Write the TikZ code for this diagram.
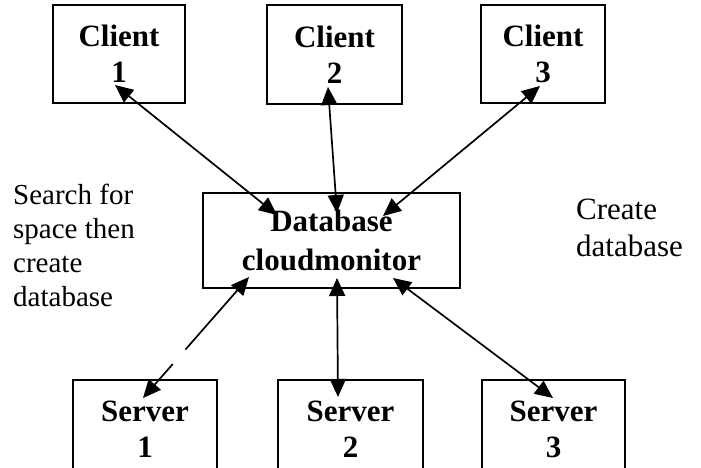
\documentclass[tikz,border=0pt]{standalone}
\usepackage{fontspec}
\setmainfont{Liberation Serif}
\usetikzlibrary{arrows.meta,positioning,calc}

\begin{document}
\begin{tikzpicture}[x=1pt, y=-1pt,
    box/.style={rectangle, draw, line width=2pt, inner sep=0pt, align=center,
                font=\fontsize{31}{36}\selectfont\bfseries},
    link/.style={{Triangle[length=18pt,width=16pt]}-{Triangle[length=18pt,width=16pt]}, line width=1.7pt},
    halflink/.style={-{Triangle[length=18pt,width=16pt]}, line width=1.7pt},
    note/.style={inner sep=0pt, align=left, anchor=north west}
]
\clip (0,0) rectangle (701,468);
\fill[white] (0,0) rectangle (701,468);

% clients
\node[box, minimum width=132pt, minimum height=98pt] (client1) at (119,54) {Client\\1};
\node[box, minimum width=135pt, minimum height=99pt] (client2) at (334.5,54.5) {Client\\2};
\node[box, minimum width=124pt, minimum height=98pt] (client3) at (543,54) {Client\\3};

% monitor
\node[box, minimum width=257pt, minimum height=95pt, font=\fontsize{31}{39}\selectfont\bfseries] (db) at (331.5,240.5) {Database\\cloudmonitor};

% servers
\node[box, minimum width=144pt, minimum height=98pt] (server1) at (145,429) {Server\\1};
\node[box, minimum width=145pt, minimum height=98pt] (server2) at (350.5,429) {Server\\2};
\node[box, minimum width=143pt, minimum height=98pt] (server3) at (553.5,429) {Server\\3};

% side notes
\node[note, font=\fontsize{29}{34}\selectfont] (search) at (13,184) {Search for\\space then\\create\\database};
\node[note, font=\fontsize{31}{37}\selectfont] (create) at (576,199) {Create\\database};

% client links
\draw[link] ($(client1.center)+(-4,31)$) -- ($(db.center)+(-54.5,-25.5)$);
\draw[link] ($(client2.center)+(-6.5,32.5)$) -- ($(db.center)+(5.5,-27.5)$);
\draw[link] ($(client3.center)+(-3,32)$) -- ($(db.center)+(51.5,-24.5)$);

% server links
\coordinate (s1top) at ($(db.center)+(-82.5,36.5)$);
\coordinate (s1end) at ($(server1.center)+(-2,-31)$);
\draw[halflink] ($(s1top)!0.6!(s1end)$) -- (s1top);
\draw[halflink] ($(s1top)!0.72!(s1end)$) -- (s1end);
\draw[link] ($(db.center)+(5.5,37.5)$) -- ($(server2.center)+(-12.5,-32)$);
\draw[link] ($(db.center)+(61.5,37.5)$) -- ($(server3.center)+(-0.5,-31)$);
\end{tikzpicture}
\end{document}
